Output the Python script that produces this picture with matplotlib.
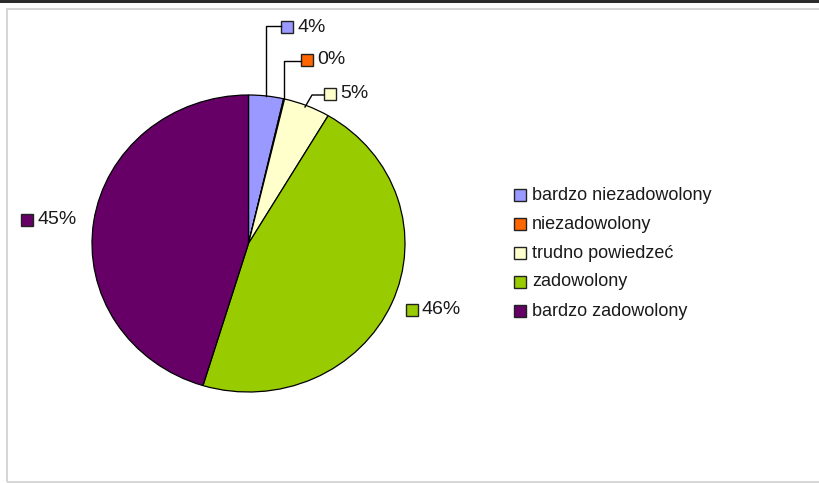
import matplotlib.pyplot as plt
from matplotlib.patches import Rectangle
from matplotlib.lines import Line2D

plt.rcParams['font.family'] = ['Liberation Sans', 'DejaVu Sans']

labels = ['bardzo niezadowolony', 'niezadowolony', 'trudno powiedzeć',
          'zadowolony', 'bardzo zadowolony']
shares = [3.6, 0.1, 4.8, 46.2, 45.3]
colors = ['#9999ff', '#ff6600', '#ffffcc', '#99cc00', '#660066']

W, H = 819, 483
fig = plt.figure(figsize=(W / 100, H / 100), dpi=100)

def px(x, y):
    # pixel position (from top-left) -> figure fraction
    return x / W, 1 - y / H

# frame around the chart area
fig.patches.append(Rectangle(px(7, 482), (W + 10) / W, 473 / H,
                             transform=fig.transFigure, fill=False,
                             edgecolor='#cfcfcf', linewidth=1.2))
fig.patches.append(Rectangle(px(0, 2.5), 1, 2.5 / H, transform=fig.transFigure,
                             facecolor='#2b2b2b', edgecolor='none'))

# pie box, slightly squashed vertically
l, t, r, b = 92, 95, 405, 392
ax = fig.add_axes([l / W, 1 - b / H, (r - l) / W, (b - t) / H])
wedges, _ = ax.pie(shares, colors=colors, startangle=90, counterclock=False,
                   radius=1, wedgeprops=dict(edgecolor='black', linewidth=0.9))
ax.set_aspect('auto')
ax.set_xlim(-1, 1)
ax.set_ylim(-1, 1)
ax.axis('off')

# data labels: (square left x, center y) in pixels, optional leader path
label_pos = [
    (281, 27, [(266, 96), (266, 26), (281, 26)]),
    (301, 60, [(284, 98), (284, 61), (301, 61)]),
    (324, 94, [(305, 107), (312, 95), (324, 95)]),
    (406, 310, None),
    (21, 220, None),
]
for v, c, (sx, sy, path) in zip(shares, colors, label_pos):
    if path:
        xs = [p[0] / W for p in path]
        ys = [1 - p[1] / H for p in path]
        fig.add_artist(Line2D(xs, ys, transform=fig.transFigure,
                              color='black', linewidth=1))
    fig.patches.append(Rectangle(px(sx, sy + 6), 12 / W, 12 / H,
                                 transform=fig.transFigure, facecolor=c,
                                 edgecolor='#222222', linewidth=1))
    fig.text((sx + 16) / W, 1 - sy / H, '{:.0f}%'.format(v), fontsize=14,
             va='center', ha='left', color='#1a1a1a')

# legend
leg_y = [195, 224, 253, 282, 311]
for name, c, y in zip(labels, colors, leg_y):
    fig.patches.append(Rectangle(px(514, y + 6), 12 / W, 12 / H,
                                 transform=fig.transFigure, facecolor=c,
                                 edgecolor='#222222', linewidth=1))
    fig.text(532 / W, 1 - y / H, name, fontsize=13, va='center', ha='left',
             color='#1a1a1a')

fig.savefig('out.png', dpi=100)
